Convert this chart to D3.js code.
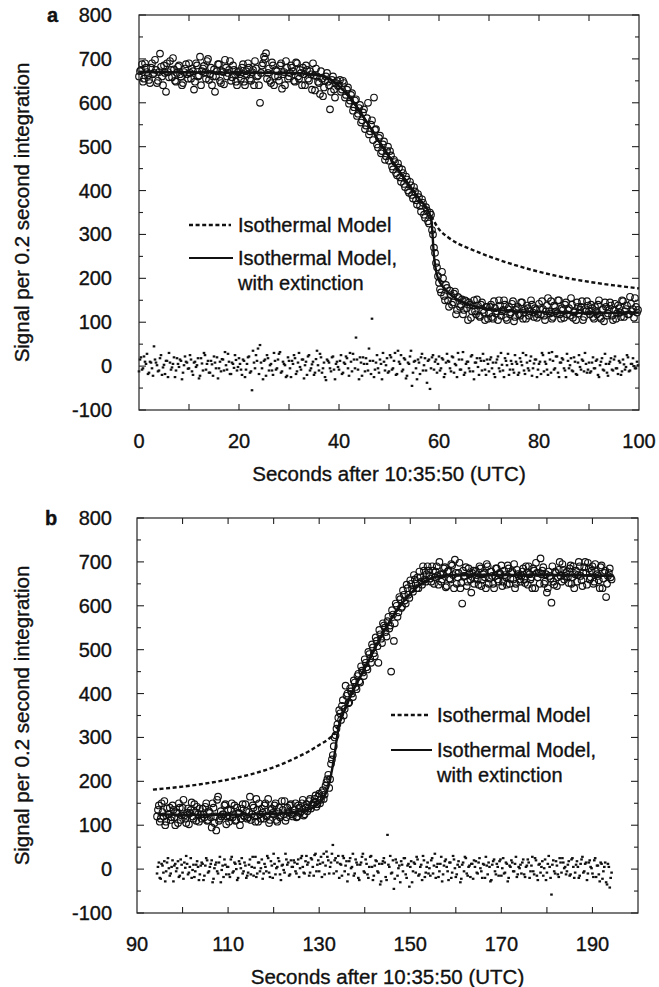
<!DOCTYPE html>
<html><head><meta charset="utf-8">
<script src="https://cdn.jsdelivr.net/npm/d3@7"></script>
<style>
body{margin:0;background:#fff}
text{font-family:"Liberation Sans",Arial,Helvetica,sans-serif;fill:#111;stroke:#111;stroke-width:0.35px}
</style>
</head><body>
<svg id="c" width="659" height="987"></svg>
<script>
// ---------- DATA ----------
// sampling grids (seconds after 10:35:50 UTC); two interleaved sets per panel
const startA = 0.2, startA2 = 0.0, stepA = 0.4;
const startB = 94.6, startB2 = 94.4, stepB = 0.4;

// panel a: observed signal per 0.2 s integration
const signalA = [
672,688,655,680,662,645,690,668,675,650,712,660,685,625,670,695,658,676,648,682,665,640,670,688,655,
668,678,630,690,660,705,672,684,655,700,665,640,676,660,688,650,672,642,680,668,695,658,675,648,670,
665,680,648,672,690,655,670,640,678,662,600,685,705,713,668,650,692,640,675,660,685,632,670,695,655,
668,680,650,692,660,675,640,665,685,655,672,630,662,678,648,620,655,635,660,648,585,652,630,645,638,
652,630,645,618,635,605,622,590,608,575,595,560,585,548,600,535,560,612,540,498,525,490,512,478,500,
490,455,470,440,462,430,448,415,432,400,420,390,408,378,392,365,380,345,362,330,350,310,270,235,205,
175,215,160,185,150,172,140,165,118,158,135,152,128,148,105,140,125,150,118,138,112,145,122,135,108,
135,112,148,120,105,138,125,150,110,130,118,142,102,128,135,115,145,122,108,132,125,140,112,128,118,
130,148,115,125,155,120,108,138,125,150,118,132,110,145,128,115,140,122,105,135,128,148,112,125,138,
118,132,108,125,140,112,128,102,135,120,145,115,128,108,138,122,150,112,130,118,158,125,110,135,128];
const signalA2 = [
660,675,648,690,670,652,680,665,698,645,670,682,640,668,690,658,675,702,650,668,685,660,645,678,665,
690,655,672,648,685,662,640,678,668,695,652,680,660,625,672,688,645,670,698,660,675,650,685,665,640,
672,655,688,640,665,680,650,675,695,660,640,668,690,700,655,678,645,685,660,672,650,690,665,640,680,
660,685,672,648,690,655,668,680,640,675,650,665,690,628,660,645,672,615,650,668,640,625,660,612,650,
640,625,650,612,630,598,618,582,605,570,588,555,578,540,565,528,550,515,538,505,520,485,505,470,490,
468,480,448,465,435,452,420,440,408,425,395,412,382,398,368,385,352,372,338,355,325,345,300,258,225,
190,168,200,150,178,135,162,145,170,128,155,140,118,150,132,145,110,138,125,152,115,140,128,105,135,
120,140,108,132,125,150,115,128,140,105,135,122,148,112,130,118,145,108,128,138,115,150,122,132,110,
142,118,130,105,138,125,148,112,135,120,150,108,128,140,118,132,155,110,125,145,120,135,105,130,148,
125,140,112,135,118,150,108,130,145,115,128,138,105,142,120,132,112,148,125,138,118,142,130,155,122];

// panel a: residuals (observed - model)
const residA = [
15,-8,22,5,-18,10,-5,45,8,-12,18,-20,3,12,-25,8,-3,20,-10,5,15,-30,2,10,-6,
25,-12,8,-2,18,-22,6,30,-8,12,-15,4,22,-5,-28,10,16,-10,2,28,-18,8,-4,14,-2,
5,-20,12,-8,20,-15,-55,8,25,40,48,-5,12,-22,18,2,-10,30,-8,15,32,-12,5,-25,20,
-5,12,25,-18,8,-2,15,-28,10,22,-10,4,-20,16,2,28,-15,8,-32,12,-5,20,-8,5,-2,
12,-18,8,22,-5,30,-12,15,65,-8,20,-22,5,18,-10,12,108,-25,8,-5,15,-30,10,2,-15,
25,-8,12,-20,35,5,-12,18,-28,8,22,-45,10,-5,15,-18,28,2,-10,12,-52,20,-8,15,5,
-10,18,-25,8,12,-5,22,-15,2,30,-8,15,-20,5,10,-12,25,-30,8,-2,18,-10,12,-20,5,
15,-5,-18,8,22,-12,3,-25,12,28,-8,5,-15,10,-20,18,2,-10,25,-5,12,-22,6,15,-8,
10,30,-12,5,-20,15,32,-8,22,-15,8,18,-5,-25,12,2,-10,20,-18,8,-2,15,-12,5,-8,
-15,8,-5,12,-20,2,18,-10,5,-22,10,-8,15,-5,-18,8,-12,4,-2,20,-10,5,0,-5,2];
const residA2 = [
-12,20,-5,10,28,-15,8,-22,15,2,-10,25,-3,-18,12,30,-8,5,-25,18,-2,12,-15,22,8,
-5,15,-20,10,2,-28,18,-10,25,5,-15,12,-22,8,20,-5,-12,15,32,-8,10,-18,5,25,-10,
18,-8,15,-25,5,22,-12,35,-5,12,-18,8,-30,15,25,-10,5,-20,12,-5,28,-15,10,2,-22,
12,-25,5,18,-12,30,-8,15,2,-20,25,-5,10,-15,35,-10,20,-5,-25,15,8,-12,22,-30,10,
-8,25,-15,5,18,-22,10,28,-5,15,-30,8,20,-12,5,40,-18,12,-8,25,-15,5,30,-10,18,
-12,20,-5,30,-18,10,25,-8,15,-22,5,35,-15,12,-30,8,20,-10,18,-38,15,-5,25,10,-15,
22,-5,15,-18,28,10,-12,20,5,-25,15,-8,32,-15,10,-5,22,-12,8,18,-20,12,28,-8,15,
-12,20,8,-25,15,-5,30,-10,18,2,-20,12,-8,25,5,-15,10,30,-18,8,-10,22,-5,15,-25,
5,-18,25,10,-8,30,-15,12,-5,22,-25,8,15,-10,28,-5,18,-12,10,-20,25,-8,12,30,-15,
8,-12,20,-5,15,-25,10,-8,28,-15,5,18,-10,22,-5,12,-20,15,-8,25,-12,5,18,-5,10];

// panel a: model curves
const isoTimesA = [0,30,35,38,40,42,44,46,48,50,52,54,56,58,60,62,64,66,70,75,80,85,90,95,100];
const isoA      = [670,668,664,655,638,614,583,548,512,478,445,413,382,350,312,292,278,268,250,231,215,202,192,184,177];
const extTimesA = [0,30,35,38,40,42,44,46,48,50,52,54,56,58,58.5,59,59.5,60,61,62,64,66,70,75,80,90,100];
const extA      = [670,668,664,655,638,614,583,548,512,478,445,413,382,350,330,250,212,195,178,166,150,140,130,125,123,121,122];

// panel b: observed signal
const signalB = [
135,108,150,120,100,138,125,112,145,118,130,105,140,122,158,115,128,102,135,120,148,110,125,138,115,
125,142,110,132,118,150,105,88,165,115,120,125,148,120,108,135,118,145,112,128,100,138,122,148,115,
130,112,145,120,160,108,125,138,115,150,122,105,135,128,145,112,130,118,155,125,110,140,128,148,120,
135,118,145,128,150,122,140,132,155,138,148,160,142,165,150,175,160,190,205,185,240,260,300,320,345,
355,372,350,418,400,380,405,392,425,410,445,425,452,440,470,455,490,470,505,485,520,470,535,515,555,
540,565,548,450,580,560,600,585,615,598,625,605,640,618,650,632,660,640,640,665,648,680,655,690,668,
655,680,665,690,648,672,660,685,642,678,662,695,670,705,650,675,640,605,668,688,655,672,630,680,662,
670,648,685,660,675,640,690,662,678,650,668,685,655,672,645,680,665,692,650,675,660,640,682,668,655,
678,660,690,648,672,665,685,640,675,675,708,680,650,672,640,668,607,655,678,645,682,668,695,660,675,
665,685,650,690,672,655,700,668,645,688,675,698,660,680,650,695,672,658,688,640,675,620,668,685,660];
const signalB2 = [
120,145,115,130,155,108,125,140,118,135,100,128,150,112,140,122,105,138,128,152,115,130,142,108,125,
138,118,150,112,128,95,140,120,158,110,132,125,145,102,135,118,150,125,110,140,128,115,148,120,132,
118,165,125,140,108,135,150,115,128,145,120,160,112,138,125,150,108,140,122,135,155,118,130,145,125,
128,150,120,140,132,158,125,148,138,160,145,152,168,148,172,158,180,170,198,215,205,250,280,305,330,
362,340,385,365,395,378,412,400,430,415,440,428,462,448,478,460,495,480,512,492,528,508,545,525,560,
550,530,575,555,590,520,605,575,620,595,635,612,648,625,658,638,670,650,665,678,655,690,660,672,680,
662,690,650,678,668,700,655,672,688,645,680,660,692,640,675,665,698,652,680,668,645,685,660,675,650,
680,660,690,645,672,665,695,650,678,668,640,685,660,675,692,655,670,648,685,662,678,695,650,672,660,
668,685,652,675,690,660,640,680,698,665,650,672,688,655,630,678,662,690,648,675,665,700,655,682,668,
678,652,692,665,640,680,670,690,658,675,700,648,685,665,690,655,678,668,640,692,662,680,650,675,665];

// panel b: residuals
const residB = [
5,-20,12,-8,-28,15,2,-10,20,8,-5,18,-15,10,-22,3,12,-8,25,-2,-18,10,5,-12,15,
-25,8,20,-5,12,-30,2,15,-10,28,-2,-18,10,5,-12,22,-8,15,0,-20,12,25,-5,8,-15,
10,-12,28,3,-18,15,-5,22,-10,5,30,-8,18,-20,12,2,25,-12,8,-2,35,10,-15,20,5,
15,-10,22,2,30,-8,18,10,-15,25,5,32,-5,20,12,-18,35,8,28,-10,15,55,20,-5,30,
12,-15,25,8,-28,18,2,35,-10,15,-20,10,28,-5,22,-12,5,30,-25,8,18,-8,-35,12,25,
-18,78,5,-10,20,-22,15,2,-30,10,25,-12,8,-40,18,-5,12,28,-15,5,-25,20,-8,15,2,
20,-10,35,5,-18,12,-28,8,22,-5,15,-20,30,2,-12,18,-30,10,-5,25,-15,8,12,-22,5,
-8,15,2,-20,10,28,-12,5,-25,18,-5,12,-15,22,2,-10,15,-28,8,20,-5,12,-18,5,10,
15,-12,5,22,-20,8,-5,25,-15,10,-8,18,2,-25,12,5,-58,20,-10,8,-18,15,25,2,-12,
10,-15,22,5,-8,18,-20,12,28,-5,15,-10,20,2,-18,25,8,-12,15,-22,5,-30,12,-42,-8];
const residB2 = [
-10,15,-22,8,18,-5,25,-15,5,-28,12,2,-18,22,-8,15,30,-12,5,-20,10,-5,18,-25,8,
12,-15,25,-8,5,20,-22,10,-5,15,-30,8,22,-12,5,-18,28,-5,12,-25,18,2,-10,15,-20,
-8,22,5,-15,28,-10,15,2,-22,12,-5,25,-18,8,35,-12,5,18,-25,10,-8,22,15,-12,5,
20,-5,12,-18,25,5,-10,30,15,-8,22,-15,35,10,-5,28,15,-12,40,20,5,35,-10,25,15,
-20,10,30,-5,18,-12,25,5,-15,22,10,-25,15,35,-8,12,-20,28,5,-15,20,-5,12,-28,18,
15,-25,10,30,-8,-45,22,-15,8,18,-5,25,-20,12,5,-30,15,-8,22,-12,10,30,-18,5,-10,
-15,25,8,-20,12,-5,28,-12,18,5,-25,15,-8,22,-18,10,5,-22,15,28,-10,5,-18,12,20,
18,-10,25,-5,12,-20,8,15,-28,10,22,-12,5,18,-15,25,-8,12,-20,5,15,-5,28,-12,2,
-10,22,-18,8,15,-5,28,-12,20,-25,12,5,-15,22,-8,30,-20,10,-5,18,-12,25,-8,15,5,
-5,18,-12,25,-20,10,5,-15,22,-8,12,-25,15,5,-10,20,-18,8,-28,12,-5,15,-35,5,-20];

// panel b: model curves
const isoTimesB = [93.5,100,105,110,115,120,125,128,130,132,133.5,134.5,135.5,136.5,138,140,142,144,146,148,150,152,154,156,160,170,180,190,194.5];
const isoB      = [181,188,195,204,216,232,254,270,283,296,312,335,360,385,418,458,498,538,573,603,627,647,660,667,670,670,670,669,668];
const extTimesB = [94.5,100,110,120,125,128,130,131,132,132.8,133.5,134.2,134.8,135.5,136.5,138,140,142,144,146,148,150,152,154,156,160,170,180,190,194.5];
const extB      = [125,124,124,126,130,138,150,163,188,225,270,320,345,360,385,418,458,498,538,573,603,627,647,660,667,670,670,670,669,668];

// axes
const yTickLabels = [-100,0,100,200,300,400,500,600,700,800];
const xTickLabelsA = [0,20,40,60,80,100];
const xTickLabelsB = [90,110,130,150,170,190];
const legendLabels = ["Isothermal Model","Isothermal Model,","with extinction"];
const xTitle = "Seconds after 10:35:50 (UTC)";
const yTitle = "Signal per 0.2 second integration";

// ---------- DRAW ----------
const svg = d3.select("#c");

function panel(o){
  const g = svg.append("g");
  const x = d3.scaleLinear().domain(o.xDomain).range([o.left,o.right]);
  const y = d3.scaleLinear().domain([-100,800]).range([o.bottom,o.top]);

  // residual dots
  o.resid.forEach(s=>{
    g.append("g").selectAll("rect").data(s.v).join("rect")
      .attr("x",(d,i)=>x(s.t0+i*o.step)-1.3).attr("y",d=>y(d)-1.1)
      .attr("width",2.6).attr("height",2.2).attr("fill","#111");
  });

  // observed circles
  o.signal.forEach(s=>{
    g.append("g").selectAll("circle").data(s.v).join("circle")
      .attr("cx",(d,i)=>x(s.t0+i*o.step)).attr("cy",d=>y(d)).attr("r",3.3)
      .attr("fill","none").attr("stroke","#111").attr("stroke-width",1.15);
  });

  const line = d3.line().curve(d3.curveMonotoneX);
  g.append("path").attr("d",line(o.isoT.map((t,i)=>[x(t),y(o.iso[i])])))
    .attr("fill","none").attr("stroke","#111").attr("stroke-width",2.4).attr("stroke-dasharray","4,2.6");
  g.append("path").attr("d",line(o.extT.map((t,i)=>[x(t),y(o.ext[i])])))
    .attr("fill","none").attr("stroke","#111").attr("stroke-width",2.4);

  // frame
  g.append("rect").attr("x",o.left).attr("y",o.top).attr("width",o.right-o.left).attr("height",o.bottom-o.top)
    .attr("fill","none").attr("stroke","#222").attr("stroke-width",1.2);

  // ticks (inward, all four sides)
  const ax = g.append("g").attr("stroke","#222").attr("stroke-width",1.1);
  d3.range(-100,801,50).forEach(v=>{
    const len = v%100===0?7:4;
    ax.append("line").attr("x1",o.left).attr("x2",o.left+len).attr("y1",y(v)).attr("y2",y(v));
    ax.append("line").attr("x1",o.right).attr("x2",o.right-len).attr("y1",y(v)).attr("y2",y(v));
  });
  o.xMinor.forEach(v=>{
    ax.append("line").attr("x1",x(v)).attr("x2",x(v)).attr("y1",o.bottom).attr("y2",o.bottom-6);
    ax.append("line").attr("x1",x(v)).attr("x2",x(v)).attr("y1",o.top).attr("y2",o.top+6);
  });

  g.append("g").selectAll("text").data(yTickLabels).join("text")
    .attr("x",112).attr("y",d=>y(d)+7).attr("text-anchor","end")
    .attr("font-size",20).text(d=>d);
  g.append("g").selectAll("text").data(o.xLabels).join("text")
    .attr("x",d=>x(d)).attr("y",o.bottom+38).attr("text-anchor","middle")
    .attr("font-size",20).text(d=>d);
  g.append("text").attr("x",(o.left+o.right)/2).attr("y",o.bottom+71)
    .attr("text-anchor","middle").attr("font-size",20.5).text(xTitle);
  g.append("text").attr("transform",`translate(29,${(o.top+o.bottom)/2}) rotate(-90)`)
    .attr("text-anchor","middle").attr("font-size",20.5).text(yTitle);
  g.append("text").attr("x",o.letterX).attr("y",o.top+7).attr("font-size",20)
    .attr("font-weight","bold").text(o.letter);

  // legend
  const L = o.legend;
  g.append("line").attr("x1",L.x1).attr("x2",L.x2).attr("y1",L.y1).attr("y2",L.y1)
    .attr("stroke","#111").attr("stroke-width",2.4).attr("stroke-dasharray","4,2.6");
  g.append("line").attr("x1",L.x1).attr("x2",L.x2+2).attr("y1",L.y2).attr("y2",L.y2)
    .attr("stroke","#111").attr("stroke-width",2.2);
  g.append("text").attr("x",L.tx).attr("y",L.y1+7).attr("font-size",20).text(legendLabels[0]);
  g.append("text").attr("x",L.tx).attr("y",L.y2+7).attr("font-size",20).text(legendLabels[1]);
  g.append("text").attr("x",L.tx).attr("y",L.y2+32).attr("font-size",20).text(legendLabels[2]);
}

panel({letter:"a", letterX:47, left:139, right:639, top:15, bottom:410,
  xDomain:[0,100], xLabels:xTickLabelsA, xMinor:d3.range(10,100,10), step:stepA,
  signal:[{t0:startA,v:signalA},{t0:startA2,v:signalA2}],
  resid:[{t0:startA,v:residA},{t0:startA2,v:residA2}],
  isoT:isoTimesA, iso:isoA, extT:extTimesA, ext:extA,
  legend:{x1:189,x2:231,y1:225,y2:258,tx:238}});

panel({letter:"b", letterX:45, left:137, right:638, top:518, bottom:913,
  xDomain:[90,200], xLabels:xTickLabelsB, xMinor:d3.range(100,200,10), step:stepB,
  signal:[{t0:startB,v:signalB},{t0:startB2,v:signalB2}],
  resid:[{t0:startB,v:residB},{t0:startB2,v:residB2}],
  isoT:isoTimesB, iso:isoB, extT:extTimesB, ext:extB,
  legend:{x1:391,x2:430,y1:715,y2:750,tx:437}});
</script>
</body></html>
